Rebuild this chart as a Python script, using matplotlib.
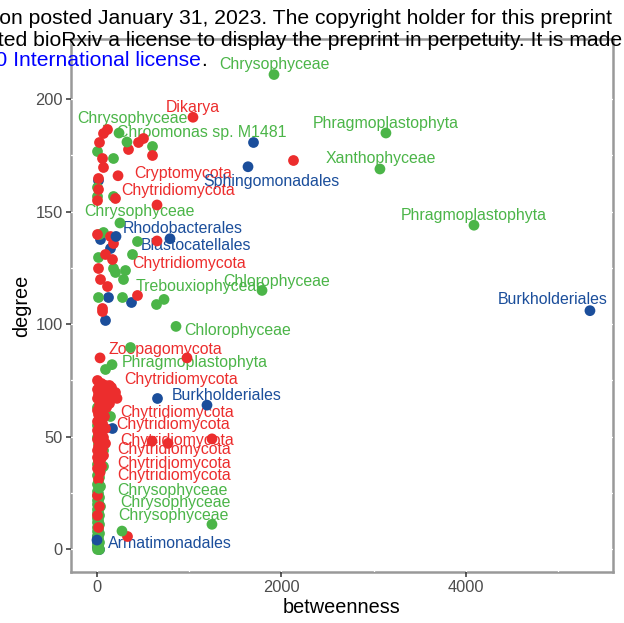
import matplotlib
matplotlib.use("Agg")
import matplotlib.pyplot as plt
from matplotlib.ticker import FixedLocator

plt.rcParams['font.family'] = ['Liberation Sans', 'DejaVu Sans']

RED = '#EC2D2D'
GREEN = '#4BB548'
BLUE = '#1B4E9B'

# nodes without a text label
blue_x = [1692, 11, 33, 141, 369, 119, 87, 163, 651, 0, 10, 0, 5, 0, 20]
blue_y = [181, 164, 138, 134, 110, 112, 102, 54, 67, 1, 2, 3, 5, 6, 0]

green_x = [597, 0, 174, 0, 0, 174, 65, 22, 434, 380, 11, 304, 174, 195, 282,
           640, 11, 271, 358, 87, 141, 65,
           98, 0, 22, 0, 33, 0, 11, 65, 22, 0, 11, 33, 0, 22, 11, 0, 33,
           0, 11, 0, 22, 0, 11, 0, 33, 0, 11, 0, 22, 0, 11, 0, 22, 0, 11,
           0, 22, 0, 11, 0, 22, 0, 11, 0, 22]
green_y = [179, 177, 174, 161, 157, 157, 141, 140, 137, 131, 130, 124, 125, 123, 120,
           109, 112, 112, 90, 80, 59, 37,
           64, 63, 58, 55, 52, 50, 47, 44, 42, 38, 36, 35, 33, 32, 30, 29, 28,
           26, 25, 24, 23, 22, 21, 20, 19, 18, 17, 16, 15, 14, 13, 12, 11, 10, 9,
           8, 7, 6, 5, 4, 3, 2, 1, 0, 0]

red_x = [108, 65, 22, 445, 499, 597, 336, 54, 65, 11, 11, 0, 195, 0, 141, 174,
         87, 163, 11, 33, 108, 434, 54, 54, 2126, 325,
         0, 43, 87, 130, 22, 65, 152, 0, 108, 43, 195, 11, 87, 33, 120, 0, 65,
         130, 22, 98, 0, 54, 11, 76, 33, 0, 54, 22, 87, 0, 43, 11, 65, 0, 33,
         87, 11, 54, 0, 22, 65, 0, 11, 43, 0, 11, 0, 22, 0, 11]
red_y = [187, 185, 181, 181, 183, 175, 178, 174, 170, 165, 160, 155, 156, 140, 139, 136,
         131, 129, 125, 120, 117, 113, 107, 106, 173, 6,
         75, 74, 73, 73, 72, 72, 72, 71, 71, 70, 70, 69, 69, 68, 68, 67, 66,
         65, 64, 63, 62, 61, 60, 59, 58, 57, 56, 55, 54, 53, 52, 51, 50, 49, 48,
         47, 46, 45, 44, 43, 42, 41, 39, 37, 36, 31, 24, 19, 15, 10]

# labelled nodes
lab_name = ['Chrysophyceae', 'Dikarya', 'Chrysophyceae', 'Chroomonas sp. M1481',
            'Phragmoplastophyta', 'Xanthophyceae', 'Cryptomycota', 'Sphingomonadales',
            'Chytridiomycota', 'Phragmoplastophyta', 'Chrysophyceae', 'Rhodobacterales',
            'Blastocatellales', 'Chytridiomycota', 'Chlorophyceae', 'Trebouxiophyceae',
            'Burkholderiales', 'Chlorophyceae', 'Zoopagomycota', 'Phragmoplastophyta',
            'Chytridiomycota', 'Burkholderiales', 'Chytridiomycota', 'Chytridiomycota',
            'Chytridiomycota', 'Chytridiomycota', 'Chytridiomycota', 'Chytridiomycota',
            'Chrysophyceae', 'Chrysophyceae', 'Chrysophyceae', 'Armatimonadales']
lab_group = ['G', 'R', 'G', 'G', 'G', 'G', 'R', 'B', 'R', 'G', 'G', 'B', 'B', 'R', 'G', 'G',
             'B', 'G', 'R', 'G', 'R', 'B', 'R', 'R', 'R', 'R', 'R', 'R', 'G', 'G', 'G', 'B']
lab_x = [1920, 1041, 239, 325, 3134, 3069, 228, 1638, 651, 4089, 249, 206, 792, 651,
         1790, 727, 5347, 857, 33, 163, 976, 1193, 217, 597, 770, 1247, 43, 33, 20,
         1247, 271, 0]
lab_y = [211, 192, 185, 181, 185, 169, 166, 170, 153, 144, 145, 139, 138, 137, 115,
         111, 106, 99, 85, 82, 85, 64, 67, 48, 47, 49, 40, 34, 27, 11, 8, 4]

# where each label sits relative to its node, in pixels
lab_dx = [0, 0, 13, 75, 0, 1, 65, 23, 21, 0, 19, 67, 26, 32, 15, 37, -37, 62, 65, 83,
          -6, 20, 60, 21, 9, -38, 73, 74, 74, -37, 51, 73]
lab_dy = [10, 10, 15, 10, 10, 10, 2, -15, 14, 10, 11, 8, -7, -23, 9, 13, 11, -4, 8, 2,
          -22, 10, -14, 17, 3, -11, -4, -3, -2, 22, 16, -3]

colors = {'R': RED, 'G': GREEN, 'B': BLUE}

W, H = 624, 623
fig = plt.figure(figsize=(W / 100, H / 100), dpi=100)
ax = fig.add_axes([71 / W, 1 - 572 / H, (613 - 71) / W, (572 - 39) / H])

ax.scatter(blue_x, blue_y, s=60, color=BLUE, linewidths=0, zorder=3)
ax.scatter(green_x, green_y, s=60, color=GREEN, linewidths=0, zorder=3)
ax.scatter(red_x, red_y, s=60, color=RED, linewidths=0, zorder=3)
ax.scatter(lab_x, lab_y, s=60, color=[colors[g] for g in lab_group],
           linewidths=0, zorder=3)

# labels sit under the dots but over the white grid
for name, g, x, y, dx, dy in zip(lab_name, lab_group, lab_x, lab_y, lab_dx, lab_dy):
    ax.annotate(name, (x, y), xytext=(dx, dy), textcoords='offset pixels',
                ha='center', va='center', fontsize=11.4, color=colors[g], zorder=2.8)

ax.set_xlim(-282, 5597)
ax.set_ylim(-10.2, 226.8)
ax.set_xticks([0, 2000, 4000])
ax.set_yticks([0, 50, 100, 150, 200])
ax.xaxis.set_minor_locator(FixedLocator([1000, 3000, 5000]))
ax.yaxis.set_minor_locator(FixedLocator([25, 75, 125, 175, 225]))
ax.tick_params(which='minor', length=0)
ax.tick_params(which='major', direction='out', length=3.5, width=1.1, color='#333333',
               labelcolor='#4D4D4D', labelsize=11.8, pad=2.5)
# white grid: only shows where it crosses the frame
ax.set_axisbelow(False)
ax.grid(True, which='both', color='white', linewidth=0.9)
for sp in ax.spines.values():
    sp.set_color('#999999')
    sp.set_linewidth(1.8)
ax.set_xlabel('betweenness', fontsize=14.3, labelpad=2)
ax.set_ylabel('degree', fontsize=14.3, labelpad=3)

# preprint header running across the top
fig.text(612 / W, 1 - 18 / H,
         'this version posted January 31, 2023. The copyright holder for this preprint',
         ha='right', va='center', fontsize=15.2, color='black', zorder=5)
fig.text(622 / W, 1 - 40 / H,
         'who has granted bioRxiv a license to display the preprint in perpetuity. It is made',
         ha='right', va='center', fontsize=15.2, color='black', zorder=5)
fig.text(201 / W, 1 - 60 / H, 'aCC-BY-NC-ND 4.0 International license',
         ha='right', va='center', fontsize=15.2, color='blue', zorder=5)
fig.text(201 / W, 1 - 60 / H, '.', ha='left', va='center', fontsize=15.2,
         color='black', zorder=5)

fig.savefig('out.png', dpi=100)
